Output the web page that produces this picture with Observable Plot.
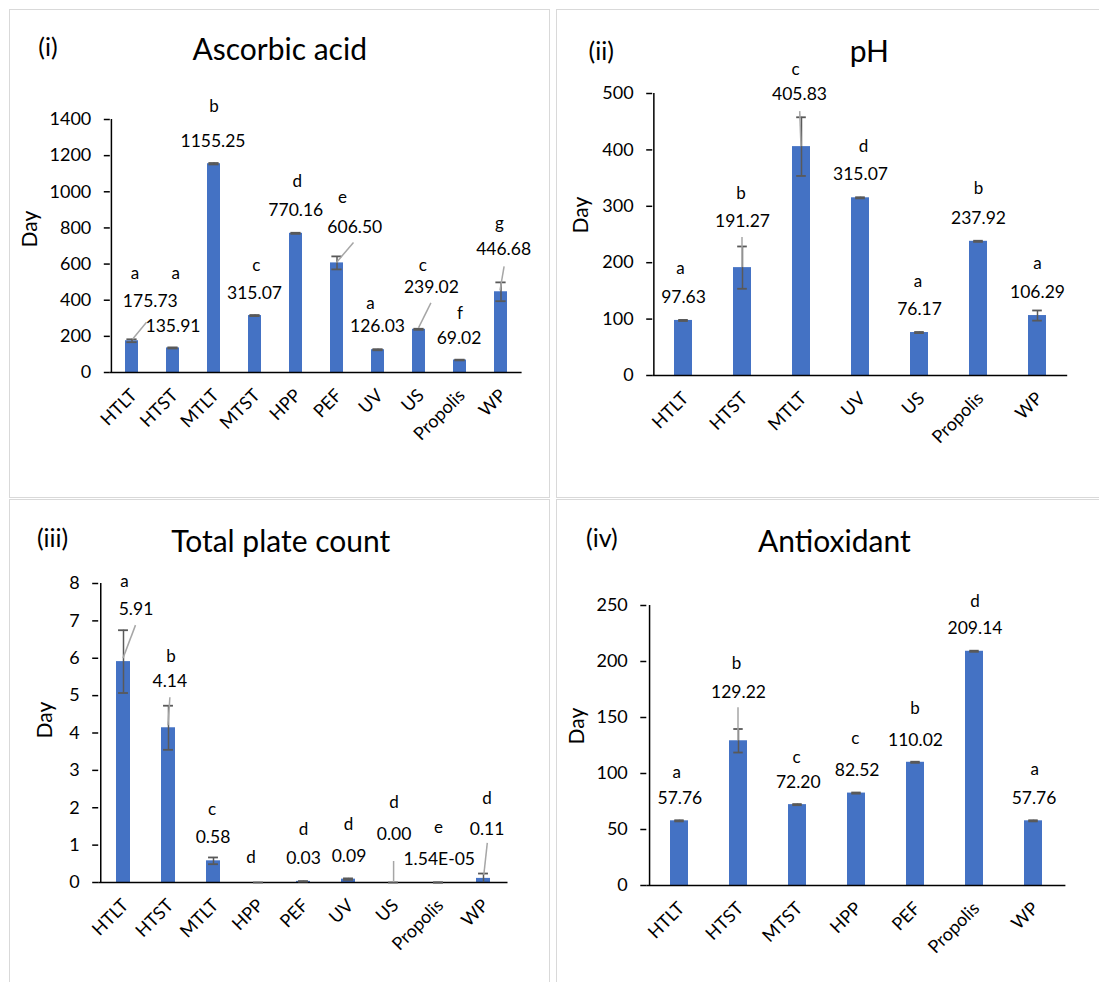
<!DOCTYPE html>
<html><head><meta charset="utf-8">
<script src="https://cdn.jsdelivr.net/npm/d3@7"></script>
<script src="https://cdn.jsdelivr.net/npm/@observablehq/plot@0.6"></script>
<style>
body{margin:0;background:#fff;font-family:Lato,sans-serif;}
#root{position:relative;width:1099px;height:982px;overflow:hidden;background:#fff;}
.box{position:absolute;border:1.5px solid #d9d9d9;box-sizing:border-box;}
.t{position:absolute;transform:translate(-50%,-50%);line-height:1;white-space:nowrap;color:#000;font-family:Lato,sans-serif;}
#root svg{position:absolute;}
</style></head><body><div id="root"></div>
<script>
// ---------- DATA ----------
// (i) Ascorbic acid
const ascCats = ["HTLT","HTST","MTLT","MTST","HPP","PEF","UV","US","Propolis","WP"];
const ascVals = [175.73,135.91,1155.25,315.07,770.16,606.50,126.03,239.02,69.02,446.68];
const ascErr  = [8,3,4,3,3,36,3,3,2,52];
const ascLetters = ["a","a","b","c","d","e","a","c","f","g"];
const ascLabels = ["175.73","135.91","1155.25","315.07","770.16","606.50","126.03","239.02","69.02","446.68"];
const ascTicks = [0,200,400,600,800,1000,1200,1400];
// (ii) pH
const phCats = ["HTLT","HTST","MTLT","UV","US","Propolis","WP"];
const phVals = [97.63,191.27,405.83,315.07,76.17,237.92,106.29];
const phErr  = [1,37.5,52,1,1,1,9];
const phLetters = ["a","b","c","d","a","b","a"];
const phLabels = ["97.63","191.27","405.83","315.07","76.17","237.92","106.29"];
const phTicks = [0,100,200,300,400,500];
// (iii) Total plate count
const tpcCats = ["HTLT","HTST","MTLT","HPP","PEF","UV","US","Propolis","WP"];
const tpcVals = [5.91,4.14,0.58,0,0.03,0.09,0.00,0.0000154,0.11];
const tpcErr  = [0.84,0.59,0.09,0,0.005,0.02,0,0,0.13];
const tpcLetters = ["a","b","c","d","d","d","d","e","d"];
const tpcLabels = ["5.91","4.14","0.58","","0.03","0.09","0.00","1.54E-05","0.11"];
const tpcTicks = [0,1,2,3,4,5,6,7,8];
// (iv) Antioxidant
const antCats = ["HTLT","HTST","MTST","HPP","PEF","Propolis","WP"];
const antVals = [57.76,129.22,72.20,82.52,110.02,209.14,57.76];
const antErr  = [0.5,10.5,0.5,0.5,0.5,0.5,0.5];
const antLetters = ["a","b","c","c","b","d","a"];
const antLabels = ["57.76","129.22","72.20","82.52","110.02","209.14","57.76"];
const antTicks = [0,50,100,150,200,250];

// ---------- LAYOUT (pixel offsets of annotations, relative to bar top) ----------
const ascLayout = {
  letter: [[3,-67],[2.6,-74],[0,-57],[1.2,-50],[1.2,-52],[5.5,-65],[-7.5,-46],[3.7,-64],[0,-46],[-1.6,-68]],
  value:  [[18.3,-39],[0,-22],[-1,-22],[-0.5,-22],[-0.2,-23],[17.8,-36],[-0.5,-23],[12.4,-42],[-1,-22],[2.6,-42]],
  lead:   [[15,-18,1,-1],null,null,null,null,[17,-20,0,0],null,[12.4,-26,0,-1],null,[3.6,-25,-0.5,-1]]
};
const phLayout = {
  letter: [[-3,-52],[-1.5,-74],[-6,-77],[3,-51],[-1.5,-51],[0,-53],[0,-52]],
  value:  [[0,-23],[0,-46],[-2,-52],[0,-23],[0,-23],[0,-23],[0,-23]],
  lead:   [null,[0,-30,0,0],[-1.3,-35,0,0],null,null,null,null]
};
const tpcLayout = {
  letter: [[1,-80],[2.6,-71],[-1.5,-51],[-7.4,-25],[0,-52],[0,-55],[0.6,-80],[0,-55],[3.6,-80]],
  value:  [[12.5,-52],[1.3,-46],[-0.5,-23],[0,0],[0,-23],[0.5,-23],[0.6,-48],[0.7,-23],[3.6,-49]],
  lead:   [[12.5,-36,0,-3],[1.9,-30,0,-2],null,null,null,null,[0.6,-21,0.6,0],null,[4.3,-35,0.8,-3]]
};
const antLayout = {
  letter: [[-2.8,-48],[-1.9,-77],[-0.9,-47],[-1.2,-55],[-0.5,-54],[0.5,-50],[1.2,-51]],
  value:  [[0.4,-22],[0,-48],[0.8,-22],[0.6,-23],[0,-22],[0.5,-23],[0.5,-22]],
  lead:   [null,[0,-33,0,0],null,null,null,null,null]
};

const root = document.getElementById("root");
function addBox(l,t,w,h){const d=document.createElement("div");d.className="box";Object.assign(d.style,{left:l+"px",top:t+"px",width:w+"px",height:h+"px"});root.appendChild(d);}
function addText(txt,x,y,size){const d=document.createElement("div");d.className="t";d.textContent=txt;Object.assign(d.style,{left:x+"px",top:y+"px",fontSize:size+"px"});root.appendChild(d);}

const hasAxisMarks = typeof Plot.axisX === "function";

function panel(o){
  const {left,top,width,height,x0,x1,yT,yB,cats,vals,errs,letters,labels,ticks,L} = o;
  const max = ticks[ticks.length-1];
  const data = cats.map((c,i)=>({c,v:vals[i],e:errs[i],letter:letters[i],label:labels[i],i}));
  const n = cats.length, step=(x1-x0)/n, bw=step*0.31;
  const capInset = Math.max(0,(bw-10)/2);
  const leaders = (index, scales) => {
    const g = d3.create("svg:g");
    const half = scales.x.bandwidth ? scales.x.bandwidth()/2 : 0;
    data.forEach(d=>{
      const ld = L.lead[d.i]; if(!ld) return;
      const cx = scales.x(d.c)+half, cy = scales.y(d.v);
      g.append("line").attr("x1",cx+ld[0]).attr("y1",cy+ld[1]).attr("x2",cx+ld[2]).attr("y2",cy+ld[3])
        .attr("stroke","#a6a6a6").attr("stroke-width",1.5);
    });
    return g.node();
  };
  const axes = hasAxisMarks ? [
    Plot.axisX({tickRotate:-45,tickSize:0,tickPadding:20,fontSize:18,label:null,dx:2}),
    Plot.axisY({ticks,tickSize:6,tickPadding:13,fontSize:18,label:null,tickFormat:d=>String(d),strokeWidth:1.5})
  ] : [];
  const marks = [
    ...axes,
    Plot.barY(data,{x:"c",y:"v",fill:"#4472C4"}),
    Plot.ruleY([0],{stroke:"#000",strokeWidth:1.5}),
    Plot.ruleX([cats[0]],{y1:0,y2:max,dx:-step/2,stroke:"#000",strokeWidth:1.5}),
    Plot.ruleX(data,{x:"c",y1:d=>Math.max(0,d.v-d.e),y2:d=>d.v+d.e,stroke:"#595959",strokeWidth:1.5}),
    Plot.tickY(data,{x:"c",y:d=>d.v+d.e,stroke:"#595959",strokeWidth:1.8,insetLeft:capInset,insetRight:capInset}),
    Plot.tickY(data.filter(d=>d.v-d.e>0),{x:"c",y:d=>d.v-d.e,stroke:"#595959",strokeWidth:1.8,insetLeft:capInset,insetRight:capInset}),
    leaders,
    ...data.map(d=>Plot.text([d],{x:"c",y:"v",text:"letter",dx:L.letter[d.i][0],dy:L.letter[d.i][1],fontSize:17,fill:"#000"})),
    ...data.filter(d=>d.label).map(d=>Plot.text([d],{x:"c",y:"v",text:"label",dx:L.value[d.i][0],dy:L.value[d.i][1],fontSize:17.5,fill:"#000"})),
    Plot.text(["Day"],{frameAnchor:"left",dx:o.dayDx,dy:o.dayDy,rotate:-90,fontSize:21,fill:"#000"})
  ];
  const svg = Plot.plot({
    width,height,
    marginLeft:x0-left, marginRight:left+width-x1, marginTop:yT-top, marginBottom:top+height-yB,
    x:{domain:cats,paddingInner:0.69,paddingOuter:0.345,label:null,tickSize:0,tickRotate:-45,tickPadding:20},
    y:{domain:[0,max],ticks,tickSize:6,tickPadding:13,label:null,tickFormat:d=>String(d)},
    style:{fontFamily:"Lato",fontSize:"18px",color:"#000",background:"transparent",overflow:"visible"},
    marks
  });
  svg.style.left=left+"px"; svg.style.top=top+"px";
  root.appendChild(svg);
}

addBox(9,9,541,489); addBox(556,9,560,489); addBox(9,499,541,500); addBox(556,499,560,500);

panel({left:10,top:10,width:539,height:487,x0:109.8,x1:521.6,yT:119,yB:372,cats:ascCats,vals:ascVals,errs:ascErr,letters:ascLetters,labels:ascLabels,ticks:ascTicks,L:ascLayout,dayDx:-80,dayDy:1.5});
panel({left:557,top:10,width:542,height:487,x0:652.2,x1:1067.2,yT:93,yB:375,cats:phCats,vals:phVals,errs:phErr,letters:phLetters,labels:phLabels,ticks:phTicks,L:phLayout,dayDx:-71,dayDy:-1});
panel({left:10,top:500,width:539,height:482,x0:98.2,x1:507.5,yT:583,yB:882,cats:tpcCats,vals:tpcVals,errs:tpcErr,letters:tpcLetters,labels:tpcLabels,ticks:tpcTicks,L:tpcLayout,dayDx:-53,dayDy:5.5});
panel({left:557,top:500,width:542,height:482,x0:646.3,x1:1065.4,yT:605,yB:885,cats:antCats,vals:antVals,errs:antErr,letters:antLetters,labels:antLabels,ticks:antTicks,L:antLayout,dayDx:-70,dayDy:-1});

addText("(i)",48,46,25); addText("Ascorbic acid",279.7,48,30);
addText("(ii)",601.3,50,25); addText("pH",869.3,50,30);
addText("(iii)",52.6,536.5,25); addText("Total plate count",280.7,540,30);
addText("(iv)",601.8,536.5,25); addText("Antioxidant",834.3,540,30);
</script></body></html>
